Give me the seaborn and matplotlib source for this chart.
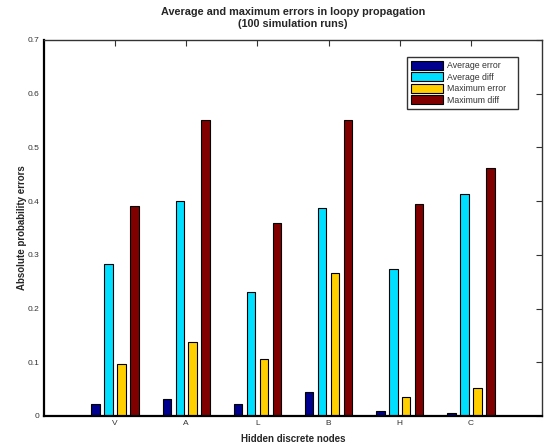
import matplotlib
matplotlib.use("Agg")
import matplotlib.pyplot as plt
import seaborn as sns
import pandas as pd

nodes = ["V", "A", "L", "B", "H", "C"]
series = ["Average error", "Average diff", "Maximum error", "Maximum diff"]
avg_error = [0.022, 0.031, 0.022, 0.045, 0.009, 0.0055]
avg_diff = [0.283, 0.400, 0.230, 0.388, 0.274, 0.413]
max_error = [0.097, 0.137, 0.106, 0.267, 0.035, 0.053]
max_diff = [0.391, 0.551, 0.359, 0.551, 0.395, 0.462]
colors = ["#00008F", "#00DFFF", "#FFCF00", "#800000"]
yticks = [0, 0.1, 0.2, 0.3, 0.4, 0.5, 0.6, 0.7]
ytick_labels = ["0", "0.1", "0.2", "0.3", "0.4", "0.5", "0.6", "0.7"]

rows = []
for name, vals in zip(series, [avg_error, avg_diff, max_error, max_diff]):
    for n, v in zip(nodes, vals):
        rows.append({"node": n, "series": name, "value": v})
df = pd.DataFrame(rows)

sns.set_style("white")
plt.rcParams["font.family"] = ["Liberation Sans", "DejaVu Sans"]

fig = plt.figure(figsize=(5.48, 4.47), dpi=100)
ax = fig.add_axes([44 / 548, 31 / 447, 498 / 548, 376 / 447])

sns.barplot(data=df, x="node", y="value", hue="series", order=nodes,
            hue_order=series, palette=dict(zip(series, colors)),
            width=0.727, gap=0.34, edgecolor="black", linewidth=0.8,
            saturation=1, errorbar=None, ax=ax)

ax.set_xlim(-1, 6)
ax.set_ylim(0, 0.7)
ax.set_yticks(yticks)
ax.set_yticklabels(ytick_labels)
ax.tick_params(direction="in", length=4, width=0.8, top=True, right=True,
               labelsize=6, labelcolor="#333333", colors="#333333", pad=3)
for side in ["left", "bottom"]:
    ax.spines[side].set_linewidth(1.6)
    ax.spines[side].set_color("black")
for side in ["top", "right"]:
    ax.spines[side].set_linewidth(1.0)
    ax.spines[side].set_color("#333333")
    ax.spines[side].set_visible(True)

ax.set_xlabel("Hidden discrete nodes", fontsize=7, fontweight="bold", labelpad=5)
ax.set_ylabel("Absolute probability errors", fontsize=7, fontweight="bold", labelpad=1)
ax.set_title("Average and maximum errors in loopy propagation\n(100 simulation runs)",
             fontsize=7.8, fontweight="bold", pad=9, linespacing=1.35)

handles, labels = ax.get_legend_handles_labels()
leg = ax.legend(handles, labels, loc="upper left",
                bbox_to_anchor=(363 / 498, 0.0, 111 / 498, 359 / 376),
                mode="expand",
                fontsize=6.3, frameon=True, fancybox=False, edgecolor="black",
                handlelength=3.7, handleheight=1.15, labelspacing=0.25,
                handletextpad=0.4, borderpad=0.45, borderaxespad=0)
leg.get_frame().set_linewidth(1.0)
for t in leg.get_texts():
    t.set_color("#333333")

fig.savefig("out.png", dpi=100)
